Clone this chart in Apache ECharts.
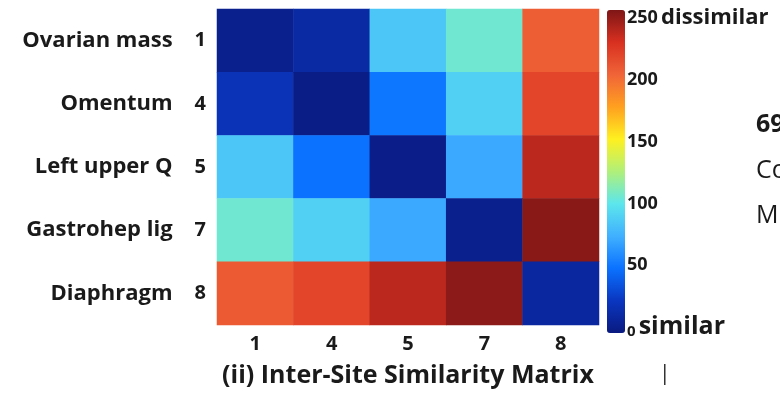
<!DOCTYPE html>
<html>
<head>
<meta charset="utf-8">
<script src="https://cdn.jsdelivr.net/npm/echarts@6/dist/echarts.min.js"></script>
<style>
html,body{margin:0;padding:0;background:#fff;}
#c{width:780px;height:393px;}
</style>
</head>
<body>
<div id="c"></div>
<script>
// ---- data ----
const sites = ['1', '4', '5', '7', '8'];
const siteNames = ['Ovarian mass', 'Omentum', 'Left upper Q', 'Gastrohep lig', 'Diaphragm'];
const row1 = [5, 14, 85, 106, 203];
const row4 = [22, 2, 52, 90, 215];
const row5 = [85, 50, 3, 72, 233];
const row7 = [106, 90, 72, 5, 247];
const row8 = [205, 215, 233, 246, 12];
const colorTicks = [0, 50, 100, 150, 200, 250];
const title = '(ii) Inter-Site Similarity Matrix';
const sideTexts = ['69', 'Co', 'M'];

const rows = [row1, row4, row5, row7, row8];
const heatData = [];
rows.forEach((r, yi) => r.forEach((v, xi) => heatData.push([xi, yi, v])));

const FONT = 'Open Sans';
const TXT = '#1a1a1a';

const chart = echarts.init(document.getElementById('c'), null, {renderer: 'canvas'});
chart.setOption({
  backgroundColor: '#ffffff',
  animation: false,
  textStyle: {fontFamily: FONT},
  grid: [
    {left: 217, top: 9, width: 382, height: 324},
    {left: 607, top: 18, width: 18, height: 309}
  ],
  xAxis: [
    {
      type: 'category', data: sites, gridIndex: 0,
      axisLine: {show: false}, axisTick: {show: false}, splitLine: {show: false},
      axisLabel: {margin: 9, color: TXT, fontSize: 20, fontWeight: 'bold', fontFamily: FONT},
      name: title, nameLocation: 'middle', nameGap: 38,
      nameTextStyle: {color: TXT, fontSize: 25, fontWeight: 'bold', fontFamily: FONT}
    },
    {type: 'value', gridIndex: 1, show: false, min: 0, max: 1}
  ],
  yAxis: [
    {
      type: 'category', data: sites, gridIndex: 0, inverse: true,
      axisLine: {show: false}, axisTick: {show: false}, splitLine: {show: false},
      axisLabel: {
        margin: 11,
        formatter: (v, i) => '{n|' + siteNames[i] + '}{d|' + v + '}',
        rich: {
          n: {fontSize: 22, fontWeight: 'bold', color: TXT, fontFamily: FONT, padding: [0, 22, 0, 0]},
          d: {fontSize: 20, fontWeight: 'bold', color: TXT, fontFamily: FONT}
        }
      }
    },
    {
      type: 'value', gridIndex: 1, position: 'right', min: 0, max: 250, interval: 50,
      axisLine: {show: false}, axisTick: {show: false}, splitLine: {show: false},
      axisLabel: {
        margin: 2,
        formatter: v => v === 250 ? '{v|250} {t|dissimilar}' : (v === 0 ? '{z|0} {s|similar}' : '{v|' + v + '}'),
        rich: {
          v: {fontSize: 18, fontWeight: 'bold', color: TXT, fontFamily: FONT},
          z: {fontSize: 15, fontWeight: 'bold', color: TXT, fontFamily: FONT, verticalAlign: 'bottom'},
          t: {fontSize: 22, fontWeight: 'bold', color: TXT, fontFamily: FONT},
          s: {fontSize: 25, fontWeight: 'bold', color: TXT, fontFamily: FONT}
        }
      }
    }
  ],
  visualMap: {
    type: 'continuous', min: 0, max: 250, calculable: false, orient: 'vertical',
    left: 607, top: 10, itemWidth: 18, itemHeight: 323, padding: 0,
    seriesIndex: 0, hoverLink: false,
    inRange: {color: ['#0a1a80', '#0a36c0', '#0a72ff', '#40b0ff', '#5ce6ec', '#b0f07a', '#fff020', '#ffa020', '#f06438', '#d83020', '#7e1616']},
    textStyle: {color: 'transparent'}
  },
  series: [{
    type: 'heatmap', xAxisIndex: 0, yAxisIndex: 0, data: heatData,
    itemStyle: {borderWidth: 0},
    emphasis: {disabled: true},
    label: {show: false}
  }],
  graphic: [
    {type: 'text', left: 756, top: 112, style: {text: sideTexts[0], font: 'bold 25px "Open Sans"', fill: TXT}},
    {type: 'text', left: 756, top: 158, style: {text: sideTexts[1], font: '25px "Open Sans"', fill: TXT}},
    {type: 'text', left: 756, top: 203, style: {text: sideTexts[2], font: '25px "Open Sans"', fill: TXT}},
    {type: 'rect', left: 664, top: 364, shape: {width: 1.5, height: 21}, style: {fill: '#333'}}
  ]
});
</script>
</body>
</html>
